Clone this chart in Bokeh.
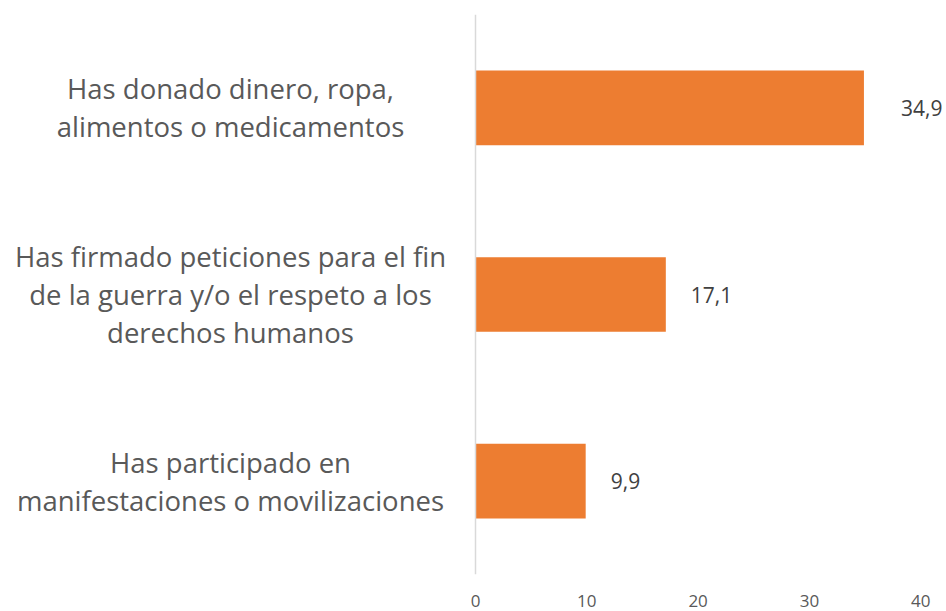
from bokeh.plotting import figure
from bokeh.models import FactorRange, Range1d, Span, FixedTicker, ColumnDataSource
from bokeh.core.properties import value
from bokeh.embed import file_html
from bokeh.resources import INLINE

# ---- data ----
categories = [
    "Has donado dinero, ropa,\nalimentos o medicamentos",
    "Has firmado peticiones para el fin\nde la guerra y/o el respeto a los\nderechos humanos",
    "Has participado en\nmanifestaciones o movilizaciones",
]
values = [34.9, 17.1, 9.9]
value_labels = ["34,9", "17,1", "9,9"]
x_ticks = [0, 10, 20, 30, 40]

# ---- style ----
FONT = "Open Sans"
BAR_COLOR = "#ED7D31"
label_dx = [37, 25, 25]   # pixel offsets of value labels from bar end

W, H = 946, 611
px_per_unit = 11.13
zero_px = 475
x_start = -zero_px / px_per_unit
x_end = (W - zero_px) / px_per_unit

p = figure(
    width=W, height=H,
    y_range=FactorRange(factors=list(reversed(categories)), range_padding=0),
    x_range=Range1d(x_start, x_end),
    y_axis_location=None,
    toolbar_location=None,
    output_backend="svg",
    min_border_left=0, min_border_right=0, min_border_top=14, min_border_bottom=37,
)
p.outline_line_color = None
p.xgrid.visible = False
p.ygrid.visible = False
p.background_fill_color = "white"
p.border_fill_color = "white"

src = ColumnDataSource(dict(cat=categories, val=values, lab=value_labels, dx=label_dx))

p.hbar(y="cat", right="val", left=0, height=0.4, source=src,
       fill_color=BAR_COLOR, line_color=None)

# vertical axis line at 0
p.add_layout(Span(location=0, dimension="height", line_color="#d9d9d9", line_width=1.5))

# value labels
p.text(x="val", y="cat", text="lab", source=src, x_offset="dx",
       text_font=value(FONT), text_font_size="21px", text_color="#404040",
       text_align="left", text_baseline="middle")

# category labels (centered block left of the axis)
cat_src = ColumnDataSource(dict(cat=categories, x=[(230 - zero_px) / px_per_unit] * len(categories)))
p.text(x="x", y="cat", text="cat", source=cat_src,
       text_font=value(FONT), text_font_size="27.5px", text_color="#595959",
       text_align="center", text_baseline="middle", text_line_height=1.03)

# x axis
ax = p.xaxis[0]
ax.ticker = FixedTicker(ticks=x_ticks)
ax.axis_line_color = None
ax.major_tick_line_color = None
ax.minor_tick_line_color = None
ax.major_label_text_font = FONT
ax.major_label_text_font_size = "17px"
ax.major_label_text_color = "#595959"
ax.major_label_standoff = 14

open("out.html", "w").write(file_html(p, INLINE))
